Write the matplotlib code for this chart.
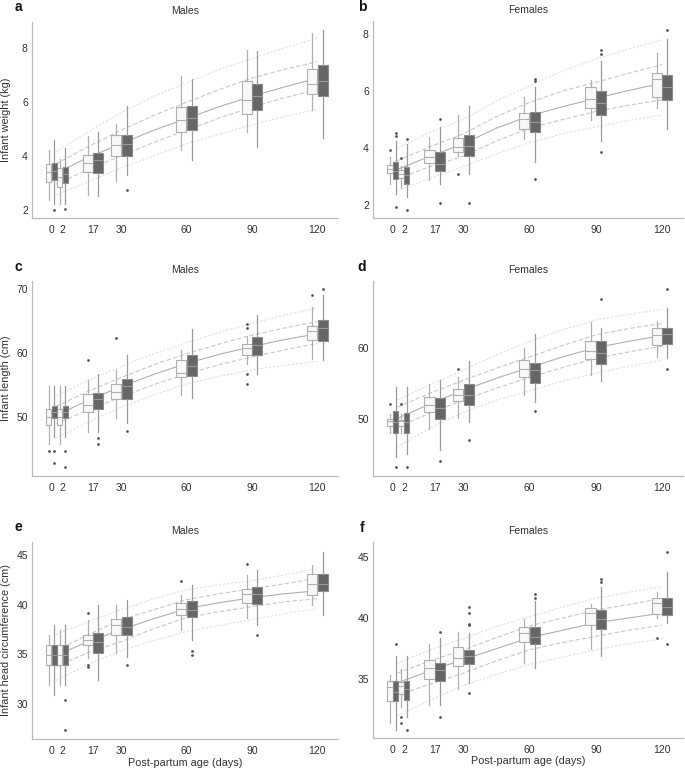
import numpy as np
import matplotlib
matplotlib.use("Agg")
import matplotlib.pyplot as plt

plt.rcParams['font.family'] = ['Liberation Sans', 'DejaVu Sans']

#### Donnees ####
days = [0, 2, 17, 30, 60, 90, 120]
box_pos = [-2, 3, 17, 30, 60, 90, 120]
curve_days = [0, 15, 30, 45, 60, 75, 90, 105, 120]

# (whisker low, q1, median, q3, whisker high) for each day
wt_m_white = [(2.35, 3.05, 3.42, 3.70, 4.20), (2.22, 2.86, 3.23, 3.54, 3.89), (2.56, 3.42, 3.73, 4.04, 4.72),
              (3.06, 4.01, 4.41, 4.78, 5.16), (4.20, 4.88, 5.31, 5.80, 6.94), (4.88, 5.56, 6.07, 6.75, 7.93),
              (5.70, 6.30, 6.67, 7.22, 8.56)]
wt_m_white_out = [[], [], [], [], [], [], []]
wt_m_dark = [(2.22, 3.12, 3.43, 3.74, 4.59), (2.22, 2.99, 3.33, 3.58, 4.28), (2.53, 3.38, 3.85, 4.10, 4.88),
             (3.30, 4.00, 4.42, 4.78, 5.86), (3.85, 4.94, 5.41, 5.86, 6.85), (4.32, 5.70, 6.21, 6.64, 7.88),
             (4.65, 6.23, 6.75, 7.35, 8.64)]
wt_m_dark_out = [[2.0], [2.04], [], [2.72], [], [], []]
wt_m_p3 = [2.55, 3.05, 3.55, 4.0, 4.45, 4.8, 5.15, 5.45, 5.72]
wt_m_p15 = [2.95, 3.5, 4.0, 4.5, 4.95, 5.4, 5.8, 6.15, 6.45]
wt_m_p50 = [3.35, 3.95, 4.45, 4.95, 5.38, 5.82, 6.2, 6.55, 6.87]
wt_m_p85 = [3.7, 4.35, 4.95, 5.5, 5.98, 6.45, 6.88, 7.2, 7.48]
wt_m_p97 = [4.15, 4.9, 5.6, 6.2, 6.7, 7.2, 7.6, 8.0, 8.35]

wt_f_white = [(2.73, 3.11, 3.25, 3.39, 3.69), (2.61, 2.96, 3.08, 3.23, 3.37), (2.87, 3.46, 3.69, 3.93, 4.40),
              (3.72, 3.87, 4.05, 4.34, 5.15), (4.31, 4.68, 5.01, 5.22, 5.80), (4.98, 5.42, 5.71, 6.15, 6.38),
              (5.40, 5.80, 6.42, 6.63, 7.32)]
wt_f_white_out = [[3.93], [3.66], [], [3.08], [], [], []]
wt_f_dark = [(2.40, 2.93, 3.19, 3.51, 4.25), (2.29, 2.75, 3.05, 3.35, 4.13), (2.75, 3.19, 3.45, 3.86, 4.72),
             (3.08, 3.72, 4.07, 4.45, 5.48), (3.52, 4.57, 4.92, 5.25, 6.15), (4.25, 5.15, 5.57, 6.00, 7.06),
             (4.66, 5.68, 6.15, 6.56, 7.82)]
wt_f_dark_out = [[4.52, 4.43, 1.94], [4.31, 1.82], [5.01, 2.08], [2.08], [6.42, 6.36, 2.93], [7.45, 7.30, 3.86], [8.12]]
wt_f_p3 = [2.5, 2.95, 3.35, 3.8, 4.19, 4.5, 4.74, 4.97, 5.16]
wt_f_p15 = [2.93, 3.35, 3.72, 4.25, 4.70, 5.0, 5.28, 5.5, 5.69]
wt_f_p50 = [3.25, 3.72, 4.15, 4.7, 5.13, 5.45, 5.74, 6.02, 6.27]
wt_f_p85 = [3.55, 4.05, 4.5, 5.1, 5.6, 6.0, 6.3, 6.62, 6.92]
wt_f_p97 = [4.0, 4.55, 5.0, 5.65, 6.18, 6.7, 7.12, 7.47, 7.79]

len_m_white = [(45.87, 48.81, 50.10, 51.24, 54.86), (45.87, 48.81, 50.10, 51.29, 54.86), (47.78, 50.78, 51.91, 53.57, 55.79),
               (49.84, 52.79, 53.88, 55.27, 57.34), (53.46, 56.30, 56.98, 58.99, 60.44), (58.37, 59.66, 60.85, 61.37, 62.6),
               (59.15, 62.09, 63.44, 64.21, 67.16)]
len_m_white_out = [[44.78], [], [58.89], [62.40], [], [64.57, 63.9, 56.82, 55.27], [68.97]]
len_m_dark = [(46.9, 49.84, 50.78, 51.81, 54.86), (46.9, 49.84, 50.78, 51.81, 54.86), (47.78, 51.29, 52.79, 53.82, 56.82),
              (49.07, 52.84, 54.91, 55.94, 59.77), (52.95, 56.41, 57.96, 59.66, 63.80), (56.82, 59.77, 61.21, 62.51, 65.87),
              (58.89, 61.89, 63.90, 65.09, 68.97)]
len_m_dark_out = [[44.78, 42.87], [44.78, 42.25], [46.85, 45.81], [47.88], [], [], [70.0]]
len_m_p3 = [46.8, 49.3, 51.6, 53.5, 55.2, 56.4, 57.4, 58.1, 58.7]
len_m_p15 = [49.0, 51.2, 53.2, 55.1, 56.8, 58.2, 59.4, 60.5, 61.5]
len_m_p50 = [50.3, 52.7, 54.8, 56.7, 58.4, 59.8, 61.0, 62.1, 63.0]
len_m_p85 = [51.7, 54.1, 56.2, 58.2, 59.9, 61.4, 62.8, 63.9, 64.9]
len_m_p97 = [53.3, 55.8, 57.9, 59.9, 61.6, 63.2, 64.6, 65.9, 67.0]

len_f_white = [(47.98, 48.97, 49.62, 50.0, 50.7), (47.98, 48.97, 49.62, 49.86, 50.7), (48.5, 50.94, 51.97, 53.05, 54.93),
               (50.09, 52.44, 53.38, 54.23, 55.87), (53.38, 55.87, 56.95, 58.31, 60.0), (56.1, 58.36, 59.48, 60.94, 63.62),
               (58.69, 60.33, 61.74, 62.77, 63.71)]
len_f_white_out = [[52.02], [52.02], [], [56.95], [], [], []]
len_f_dark = [(44.6, 47.98, 49.53, 51.03, 54.46), (45.07, 47.98, 49.53, 50.85, 54.46), (45.54, 50.0, 51.5, 52.96, 55.4),
              (49.53, 51.97, 53.29, 54.93, 58.08), (52.35, 55.07, 56.81, 57.89, 61.88), (55.31, 57.65, 59.3, 60.89, 62.77),
              (58.54, 60.47, 61.88, 62.82, 65.59)]
len_f_dark_out = [[43.1], [43.1], [44.04], [47.04], [51.03], [66.81], [68.31, 56.95]]
len_f_p3 = [46.0, 48.7, 50.9, 52.6, 53.9, 55.3, 56.4, 57.4, 58.2]
len_f_p15 = [48.8, 50.8, 52.6, 54.3, 55.8, 57.2, 58.5, 59.4, 60.2]
len_f_p50 = [50.0, 52.1, 54.0, 55.7, 57.2, 58.7, 60.0, 60.9, 61.7]
len_f_p85 = [51.6, 53.6, 55.4, 57.1, 58.7, 60.3, 61.8, 62.7, 63.4]
len_f_p97 = [52.6, 54.8, 56.8, 59.0, 60.9, 62.5, 63.9, 64.7, 65.4]

hc_m_white = [(31.91, 33.93, 34.93, 35.94, 36.95), (31.91, 33.93, 34.93, 35.94, 37.45), (34.60, 35.94, 36.44, 36.95, 38.46),
              (35.10, 36.95, 37.95, 38.52, 39.97), (37.45, 38.96, 39.56, 40.20, 40.97), (38.62, 40.20, 41.04, 41.54, 42.99),
              (39.97, 40.97, 42.05, 43.05, 43.99)]
hc_m_white_out = [[], [], [39.13, 33.93, 33.76], [], [42.38], [44.06], []]
hc_m_dark = [(30.91, 33.93, 34.93, 35.94, 37.95), (31.91, 33.93, 34.93, 35.94, 37.95), (32.42, 35.17, 36.28, 37.18, 39.97),
             (34.77, 36.95, 37.79, 38.79, 40.47), (36.44, 38.79, 39.46, 40.40, 41.98), (37.95, 40.03, 41.04, 41.81, 43.49),
             (38.96, 41.38, 42.05, 43.05, 45.34)]
hc_m_dark_out = [[], [30.40, 27.38], [], [33.93], [35.34, 34.93], [36.95], []]
hc_m_p3 = [32.4, 34.0, 35.4, 36.4, 37.3, 37.9, 38.5, 39.1, 39.6]
hc_m_p15 = [33.8, 35.2, 36.3, 37.6, 38.7, 39.3, 39.8, 40.3, 40.6]
hc_m_p50 = [34.9, 36.3, 37.5, 38.6, 39.6, 40.2, 40.7, 41.1, 41.4]
hc_m_p85 = [35.4, 37.0, 38.5, 39.5, 40.5, 41.1, 41.6, 42.1, 42.65]
hc_m_p97 = [37.0, 38.3, 39.5, 40.6, 41.5, 42.0, 42.4, 43.0, 43.6]

hc_f_white = [(31.41, 33.23, 34.35, 34.86, 35.35), (32.77, 33.78, 34.46, 34.81, 35.82), (32.91, 35.0, 35.90, 36.58, 37.85),
              (34.18, 36.09, 36.71, 37.66, 38.89), (36.36, 38.02, 38.75, 39.29, 39.89), (37.45, 39.43, 40.38, 40.84, 41.11),
              (39.97, 40.33, 41.20, 41.66, 42.09)]
hc_f_white_out = [[], [31.88, 31.41], [], [], [], [], [38.40]]
hc_f_dark = [(30.87, 33.18, 33.94, 34.86, 36.90), (31.88, 33.32, 34.18, 34.86, 36.90), (32.91, 34.86, 35.76, 36.36, 38.34),
             (34.67, 36.22, 36.93, 37.39, 38.80), (35.90, 37.88, 38.42, 39.29, 41.39), (36.93, 39.10, 39.89, 40.65, 42.55),
             (39.57, 40.24, 40.92, 41.66, 43.72)]
hc_f_dark_out = [[37.85], [30.87], [38.89, 31.88], [40.87, 40.43, 39.48, 39.43, 33.86], [41.93, 41.60], [43.15, 42.96], [45.41, 37.85]]
hc_f_p3 = [32.0, 33.3, 34.5, 35.4, 36.2, 36.8, 37.4, 37.9, 38.3]
hc_f_p15 = [33.7, 34.6, 35.5, 36.5, 37.4, 38.0, 38.5, 39.0, 39.4]
hc_f_p50 = [34.7, 35.7, 36.6, 37.5, 38.4, 39.0, 39.6, 40.0, 40.4]
hc_f_p85 = [35.5, 36.5, 37.4, 38.4, 39.35, 40.0, 40.65, 41.1, 41.6]
hc_f_p97 = [36.3, 37.4, 38.3, 39.3, 40.1, 40.9, 41.6, 42.1, 42.55]
######################


#### Fonctions ####
def make_stats(rows, outs):
    stats = []
    for (lo, q1, med, q3, hi), fl in zip(rows, outs):
        stats.append(dict(whislo=lo, q1=q1, med=med, q3=q3, whishi=hi, fliers=fl))
    return stats


def draw_boxes(ax, rows, outs, offset, face, edge, medc, whisc):
    pos = []
    widths = []
    for p in box_pos:
        if p < 10:
            pos.append(p + offset * 0.53)
            widths.append(2.45)
        else:
            pos.append(p + offset)
            widths.append(4.6)
    ax.bxp(make_stats(rows, outs), positions=pos, widths=widths, patch_artist=True,
           showcaps=False, manage_ticks=False,
           boxprops=dict(facecolor=face, edgecolor=edge, linewidth=0.8),
           medianprops=dict(color=medc, linewidth=0.8),
           whiskerprops=dict(color=whisc, linewidth=0.9),
           flierprops=dict(marker='o', markersize=2.0, markerfacecolor='#555555',
                           markeredgecolor='none'),
           zorder=3)


def draw_panel(ax, white, white_out, dark, dark_out, curves, yticks, ylim, title):
    p3, p15, p50, p85, p97 = curves
    ax.plot(curve_days, p97, color='#e0e0e0', lw=0.8, ls=(0, (2, 1.5)), zorder=1)
    ax.plot(curve_days, p3, color='#e0e0e0', lw=0.8, ls=(0, (2, 1.5)), zorder=1)
    ax.plot(curve_days, p85, color='#c8c8c8', lw=0.8, ls=(0, (4, 2)), zorder=1)
    ax.plot(curve_days, p15, color='#c8c8c8', lw=0.8, ls=(0, (4, 2)), zorder=1)
    ax.plot(curve_days, p50, color='#b0b0b0', lw=0.8, zorder=1)

    draw_boxes(ax, white, white_out, -2.4, '#f8f8f8', '#b0b0b0', '#b0b0b0', '#b0b0b0')
    draw_boxes(ax, dark, dark_out, 2.4, '#666666', '#8a8a8a', '#999999', '#9a9a9a')

    ax.set_xlim(-11, 129.5)
    ax.set_ylim(*ylim)
    ax.set_xticks(box_pos)
    ax.set_xticklabels([str(d) for d in days])
    ax.set_yticks(yticks)
    ax.tick_params(length=0, labelsize=7.5, labelcolor='#333333', pad=3)
    ax.tick_params(axis='x', pad=5)
    for s in ['top', 'right']:
        ax.spines[s].set_visible(False)
    for s in ['left', 'bottom']:
        ax.spines[s].set_color('#bbbbbb')
        ax.spines[s].set_linewidth(0.9)
    ax.set_title(title, fontsize=7.5, color='#333333', pad=6)
######################


#### Affichage ####
fig = plt.figure(figsize=(6.85, 7.68), dpi=100)
W, H = 685.0, 768.0

def add_ax(left, top, right, bottom):
    return fig.add_axes([left / W, 1 - bottom / H, (right - left) / W, (bottom - top) / H])

ax_a = add_ax(32, 22, 338, 218)
ax_b = add_ax(373, 21, 683, 218)
ax_c = add_ax(32, 281, 338, 476)
ax_d = add_ax(373, 281, 683, 476)
ax_e = add_ax(32, 542, 338, 739)
ax_f = add_ax(373, 542, 683, 738)

draw_panel(ax_a, wt_m_white, wt_m_white_out, wt_m_dark, wt_m_dark_out,
           [wt_m_p3, wt_m_p15, wt_m_p50, wt_m_p85, wt_m_p97], [2, 4, 6, 8], (1.7, 8.95), 'Males')
draw_panel(ax_b, wt_f_white, wt_f_white_out, wt_f_dark, wt_f_dark_out,
           [wt_f_p3, wt_f_p15, wt_f_p50, wt_f_p85, wt_f_p97], [2, 4, 6, 8], (1.55, 8.45), 'Females')
draw_panel(ax_c, len_m_white, len_m_white_out, len_m_dark, len_m_dark_out,
           [len_m_p3, len_m_p15, len_m_p50, len_m_p85, len_m_p97], [50, 60, 70], (40.9, 71.2), 'Males')
draw_panel(ax_d, len_f_white, len_f_white_out, len_f_dark, len_f_dark_out,
           [len_f_p3, len_f_p15, len_f_p50, len_f_p85, len_f_p97], [50, 60], (41.9, 69.4), 'Females')
draw_panel(ax_e, hc_m_white, hc_m_white_out, hc_m_dark, hc_m_dark_out,
           [hc_m_p3, hc_m_p15, hc_m_p50, hc_m_p85, hc_m_p97], [30, 35, 40, 45], (26.5, 46.3), 'Males')
draw_panel(ax_f, hc_f_white, hc_f_white_out, hc_f_dark, hc_f_dark_out,
           [hc_f_p3, hc_f_p15, hc_f_p50, hc_f_p85, hc_f_p97], [35, 40, 45], (30.2, 46.2), 'Females')

for ax, lab in [(ax_a, 'Infant weight (kg)'), (ax_c, 'Infant length (cm)'),
                (ax_e, 'Infant head circumference (cm)')]:
    ax.set_ylabel(lab, fontsize=7.8, color='#333333')
    ax.yaxis.set_label_coords(-0.068, 0.5)

for ax in [ax_e, ax_f]:
    ax.set_xlabel('Post-partum age (days)', fontsize=7.8, color='#333333')
    ax.xaxis.set_label_coords(0.5, -0.094)

for lab, x, y in [('a', 18, 7), ('b', 362, 7), ('c', 18, 267), ('d', 362, 267),
                  ('e', 18, 527), ('f', 362, 528)]:
    fig.text(x / W, 1 - y / H, lab, fontsize=10, fontweight='bold', ha='center', va='center',
             color='#111111')

fig.savefig('out.png', dpi=100)
